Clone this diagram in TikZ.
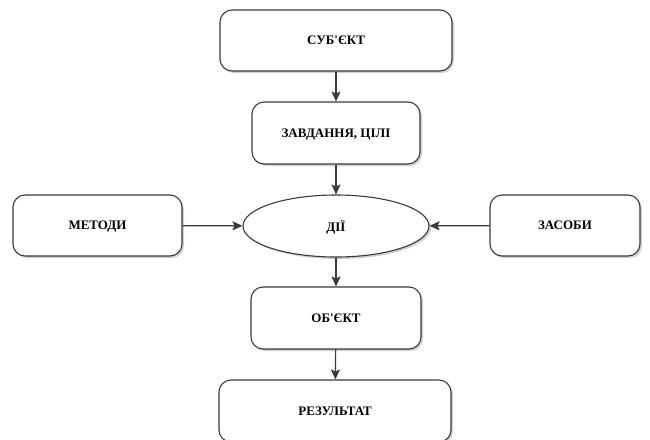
\documentclass[tikz,border=0pt]{standalone}
\usepackage{fontspec}
\setmainfont{Liberation Serif}[Ligatures=TeXOff]
\usetikzlibrary{arrows.meta,shapes.geometric,shadows}
\definecolor{linec}{HTML}{3A3A3A}
\begin{document}
\begin{tikzpicture}[x=1pt,y=-1pt,
  shade/.style={drop shadow={shadow xshift=2pt,shadow yshift=-2pt,fill=black!30,opacity=0.6}},
  label font/.style={font=\fontsize{13}{15}\selectfont\bfseries,text depth=0pt},
  block/.style={draw=linec,line width=1.1pt,fill=white,rounded corners=12pt,shade,
    label font,inner sep=0pt},
  oval/.style={ellipse,draw=linec,line width=1.1pt,fill=white,shade,
    label font,inner sep=0pt},
  link/.style={draw=linec,line width=1.2pt,-{Stealth[length=10pt,width=9pt,inset=2pt]}}]
\useasboundingbox (0,0) rectangle (650,439);
\node[block,minimum width=232pt,minimum height=61pt] (subj) at (336,40.5) {СУБ\textquotesingle ЄКТ};
\node[block,minimum width=168pt,minimum height=62pt] (goal) at (336,133) {ЗАВДАННЯ, ЦІЛІ};
\node[oval,minimum width=186pt,minimum height=62pt] (act) at (336,226) {ДІЇ};
\node[block,minimum width=169pt,minimum height=61pt] (meth) at (97.5,225.5) {МЕТОДИ};
\node[block,minimum width=150pt,minimum height=61pt] (tool) at (565,225.5) {ЗАСОБИ};
\node[block,minimum width=170pt,minimum height=62pt] (obj) at (336,318) {ОБ\textquotesingle ЄКТ};
\node[block,minimum width=232pt,minimum height=62pt] (res) at (335,411) {РЕЗУЛЬТАТ};
\draw[link] (subj) -- (goal);
\draw[link] (goal) -- (act);
\draw[link] (meth) -- (act);
\draw[link] (tool) -- (act);
\draw[link] (act) -- (obj);
\draw[link] (obj) -- (res);
\end{tikzpicture}
\end{document}
